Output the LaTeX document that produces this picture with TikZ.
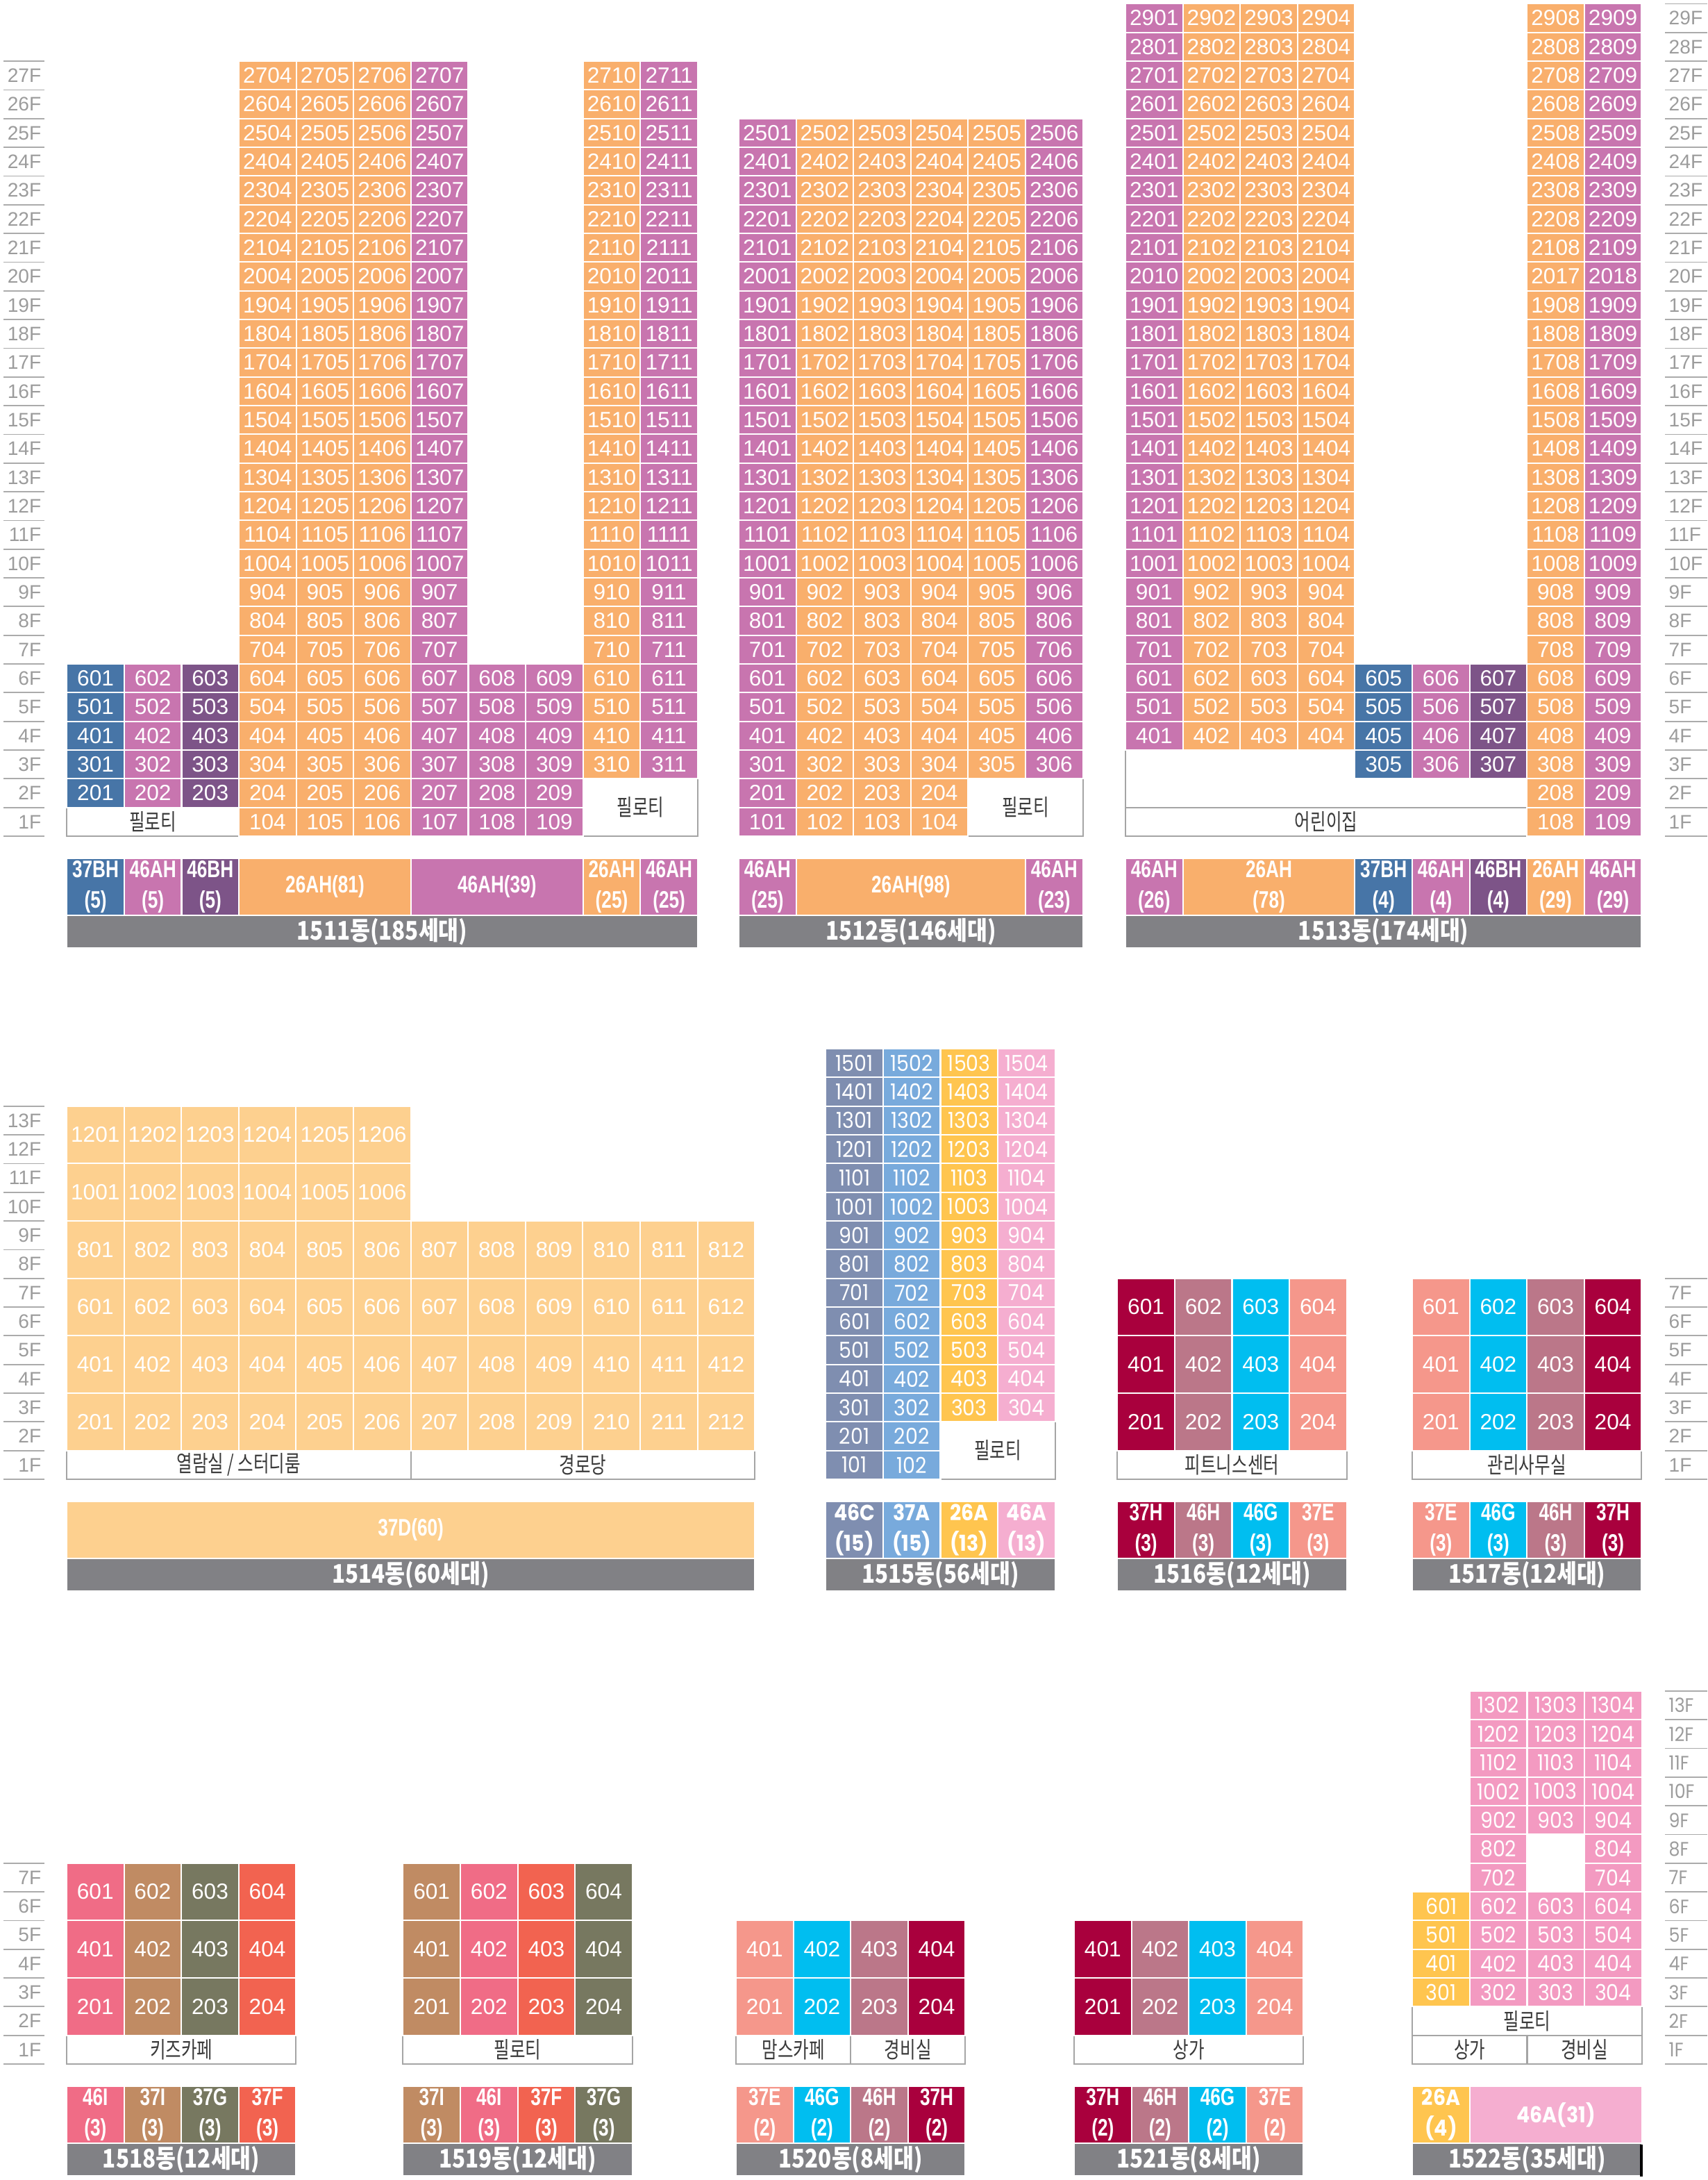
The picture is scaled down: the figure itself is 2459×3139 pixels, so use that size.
\documentclass[tikz,border=0pt]{standalone}
\usepackage{fontspec}
\setmainfont{Liberation Sans}
\newfontfamily\kr{Noto Sans CJK KR}[FakeStretch=0.75]
\newfontfamily\krb{Noto Sans CJK KR}[FakeStretch=0.85]
\newfontfamily\geo{Poppins}[FakeStretch=0.9]
\newfontfamily\lab{Liberation Sans}[FakeStretch=0.76]
\newcounter{nc}
\definecolor{orA}{HTML}{F9AF6C}
\definecolor{pkA}{HTML}{C875AF}
\definecolor{blA}{HTML}{4775A7}
\definecolor{puA}{HTML}{7D5488}
\definecolor{barg}{HTML}{818185}
\definecolor{lor}{HTML}{FDD08F}
\definecolor{slate}{HTML}{7F8EB0}
\definecolor{lblue}{HTML}{78AADC}
\definecolor{yel}{HTML}{FFC54F}
\definecolor{lpink}{HTML}{F5AED0}
\definecolor{crim}{HTML}{A9003D}
\definecolor{mauve}{HTML}{BB7789}
\definecolor{cyan}{HTML}{00BEF0}
\definecolor{salm}{HTML}{F5978B}
\definecolor{pinkred}{HTML}{F06C86}
\definecolor{brown}{HTML}{C08B63}
\definecolor{olive}{HTML}{777860}
\definecolor{redor}{HTML}{F26350}
\definecolor{pkt}{HTML}{F39AC1}
\definecolor{flg}{HTML}{9C9C9C}
\definecolor{lineg}{HTML}{ABABAB}
\definecolor{boxg}{HTML}{A5A5A5}
\definecolor{ktext}{HTML}{3A3A3A}
\def\W{82.6}
\def\H{41.33}
\tikzset{
  cell/.style={draw=white,line width=0.6pt,inner sep=0pt,minimum width=0.826cm,text=white,font=\fontsize{9}{10}\selectfont},
  ufont/.style={},
  typ/.style={draw=white,line width=0.6pt,inner sep=0pt,text=white,align=center,minimum height=0.82cm,font=\lab\bfseries\fontsize{9.8}{12.5}\selectfont},
  tfont/.style={},
  bar/.style={fill=barg,draw=white,line width=0.6pt,inner sep=0pt,text=white,minimum height=0.47cm,font=\krb\bfseries\fontsize{10.5}{12}\selectfont},
  kb/.style={fill=white,draw=boxg,line width=0.6pt,inner sep=0pt,text=ktext,font=\kr\fontsize{9.3}{10}\selectfont},
  flab/.style={text=flg,inner sep=0pt,font=\fontsize{8}{9}\selectfont},
  flabgeo/.style={text=flg,inner sep=0pt,font=\geo\fontsize{8}{9}\selectfont},
  fline/.style={draw=lineg,line width=0.5pt}
}
\newcommand\bcell[6]{%
  \pgfmathsetmacro\ux{#1+(#2+0.5)*\W}%
  \pgfmathsetmacro\uy{\B-(#3-1+#4/2)*\H}%
  \pgfmathsetmacro\uh{#4*\H*0.01}%
  \stepcounter{nc}%
  \node[cell,ufont,fill=#5,minimum height=\uh cm] (u\arabic{nc}) at (\ux,\uy) {#6};}
\newcommand\bcol[5]{\foreach \f in {#3}{\pgfmathtruncatemacro\unum{\f*100+#5}\bcell{#1}{#2}{\f}{1}{#4}{\unum}}}
\newcommand\bblk[4]{\foreach \cc [count=\ci] in {#4}{\foreach \f in {#2}{\pgfmathtruncatemacro\unum{\f*100+\ci}\bcell{#1}{\ci-1}{\f}{#3}{\cc}{\unum}}}}
\newcommand\btype[5]{%
  \pgfmathsetmacro\qx{#1+(#2+#3)/2*\W}%
  \pgfmathsetmacro\qw{(#3-#2)*\W*0.01}%
  \pgfmathsetmacro\qy{\B+73}%
  \stepcounter{nc}%
  \node[typ,tfont,fill=#4,minimum width=\qw cm] (t\arabic{nc}) at (\qx,\qy) {#5};}
\newcommand\bbar[3]{%
  \pgfmathsetmacro\qx{#1+#2/2*\W}%
  \pgfmathsetmacro\qw{#2*\W*0.01}%
  \pgfmathsetmacro\qy{\B+137.5}%
  \stepcounter{nc}%
  \node[bar,minimum width=\qw cm] (g\arabic{nc}) at (\qx,\qy) {#3};}
\newcommand\kbox[6]{%
  \pgfmathsetmacro\qx{#1+(#2+#3)/2*\W}%
  \pgfmathsetmacro\qw{(#3-#2)*\W*0.01}%
  \pgfmathsetmacro\qy{\B-(#4-1+#5/2)*\H}%
  \pgfmathsetmacro\qh{#5*\H*0.01}%
  \stepcounter{nc}%
  \node[kb,minimum width=\qw cm,minimum height=\qh cm] (k\arabic{nc}) at (\qx,\qy) {#6};}
\newcommand\bfloors[6]{%
  \foreach \i in {1,...,#5}{\pgfmathsetmacro\qy{\B-(\i-0.5)*\H}\stepcounter{nc}\node[#6,anchor=#4] (f\arabic{nc}) at (#3,\qy) {\i F};}%
  \foreach \i in {0,...,#5}{\pgfmathsetmacro\qy{\B-\i*\H}\draw[fline] (#1,\qy) -- (#2,\qy);}}
\begin{document}
\begin{tikzpicture}[x=0.01cm,y=-0.01cm]
\fill[white] (0,0) rectangle (2459,3139);
\useasboundingbox (0,0) rectangle (2459,3139);
% ================= SECTION A =================
\def\B{1204}
\bfloors{5}{64}{60}{east}{27}{flab}
\bfloors{2398}{2459}{2403}{west}{29}{flab}
% ---- 1511
\kbox{96.3}{0}{3}{1}{1}{필로티}
\kbox{96.3}{9}{11}{1}{2}{필로티}
\bcol{96.3}{0}{2,...,6}{blA}{1}
\bcol{96.3}{1}{2,...,6}{pkA}{2}
\bcol{96.3}{2}{2,...,6}{puA}{3}
\bcol{96.3}{3}{1,...,27}{orA}{4}
\bcol{96.3}{4}{1,...,27}{orA}{5}
\bcol{96.3}{5}{1,...,27}{orA}{6}
\bcol{96.3}{6}{1,...,27}{pkA}{7}
\bcol{96.3}{7}{1,...,6}{pkA}{8}
\bcol{96.3}{8}{1,...,6}{pkA}{9}
\bcol{96.3}{9}{3,...,27}{orA}{10}
\bcol{96.3}{10}{3,...,27}{pkA}{11}
\btype{96.3}{0}{1}{blA}{37BH\\(5)}
\btype{96.3}{1}{2}{pkA}{46AH\\(5)}
\btype{96.3}{2}{3}{puA}{46BH\\(5)}
\btype{96.3}{3}{6}{orA}{26AH(81)}
\btype{96.3}{6}{9}{pkA}{46AH(39)}
\btype{96.3}{9}{10}{orA}{26AH\\(25)}
\btype{96.3}{10}{11}{pkA}{46AH\\(25)}
\bbar{96.3}{11}{1511동(185세대)}
% ---- 1512
\kbox{1064}{4}{6}{1}{2}{필로티}
\bcol{1064}{0}{1,...,25}{pkA}{1}
\bcol{1064}{1}{1,...,25}{orA}{2}
\bcol{1064}{2}{1,...,25}{orA}{3}
\bcol{1064}{3}{1,...,25}{orA}{4}
\bcol{1064}{4}{3,...,25}{orA}{5}
\bcol{1064}{5}{3,...,25}{pkA}{6}
\btype{1064}{0}{1}{pkA}{46AH\\(25)}
\btype{1064}{1}{5}{orA}{26AH(98)}
\btype{1064}{5}{6}{pkA}{46AH\\(23)}
\bbar{1064}{6}{1512동(146세대)}
% ---- 1513
\kbox{1621}{0}{7}{2}{2}{}
\kbox{1621}{0}{7}{1}{1}{어린이집}
\bcol{1621}{0}{4,...,29}{pkA}{1}
\bcell{1621}{0}{20}{1}{pkA}{2010}
\bcol{1621}{1}{4,...,29}{orA}{2}
\bcol{1621}{2}{4,...,29}{orA}{3}
\bcol{1621}{3}{4,...,29}{orA}{4}
\bcol{1621}{4}{3,...,6}{blA}{5}
\bcol{1621}{5}{3,...,6}{pkA}{6}
\bcol{1621}{6}{3,...,6}{puA}{7}
\bcol{1621}{7}{1,...,29}{orA}{8}
\bcell{1621}{7}{20}{1}{orA}{2017}
\bcol{1621}{8}{1,...,29}{pkA}{9}
\bcell{1621}{8}{20}{1}{pkA}{2018}
\btype{1621}{0}{1}{pkA}{46AH\\(26)}
\btype{1621}{1}{4}{orA}{26AH\\(78)}
\btype{1621}{4}{5}{blA}{37BH\\(4)}
\btype{1621}{5}{6}{pkA}{46AH\\(4)}
\btype{1621}{6}{7}{puA}{46BH\\(4)}
\btype{1621}{7}{8}{orA}{26AH\\(29)}
\btype{1621}{8}{9}{pkA}{46AH\\(29)}
\bbar{1621}{9}{1513동(174세대)}
% ================= SECTION B =================
\def\B{2130}
\bfloors{5}{64}{60}{east}{13}{flab}
\bfloors{2398}{2459}{2403}{west}{7}{flab}
% ---- 1514
\kbox{96}{0}{6}{1}{1}{열람실 / 스터디룸}
\kbox{96}{6}{12}{1}{1}{경로당}
\bblk{96}{2,4,6,8}{2}{lor,lor,lor,lor,lor,lor,lor,lor,lor,lor,lor,lor}
\bblk{96}{10,12}{2}{lor,lor,lor,lor,lor,lor}
\btype{96}{0}{12}{lor}{37D(60)}
\bbar{96}{12}{1514동(60세대)}
% ---- 1515
\tikzset{ufont/.style={font=\geo\fontsize{9}{10}\selectfont},tfont/.style={font=\geo\bfseries\fontsize{9}{12.5}\selectfont}}
\kbox{1189.3}{2}{4}{1}{2}{필로티}
\bcol{1189.3}{0}{1,...,15}{slate}{1}
\bcol{1189.3}{1}{1,...,15}{lblue}{2}
\bcol{1189.3}{2}{3,...,15}{yel}{3}
\bcol{1189.3}{3}{3,...,15}{lpink}{4}
\btype{1189.3}{0}{1}{slate}{46C\\(15)}
\btype{1189.3}{1}{2}{lblue}{37A\\(15)}
\btype{1189.3}{2}{3}{yel}{26A\\(13)}
\btype{1189.3}{3}{4}{lpink}{46A\\(13)}
\bbar{1189.3}{4}{1515동(56세대)}
\tikzset{ufont/.style={},tfont/.style={}}
% ---- 1516
\kbox{1609.3}{0}{4}{1}{1}{피트니스센터}
\bblk{1609.3}{2,4,6}{2}{crim,mauve,cyan,salm}
\btype{1609.3}{0}{1}{crim}{37H\\(3)}
\btype{1609.3}{1}{2}{mauve}{46H\\(3)}
\btype{1609.3}{2}{3}{cyan}{46G\\(3)}
\btype{1609.3}{3}{4}{salm}{37E\\(3)}
\bbar{1609.3}{4}{1516동(12세대)}
% ---- 1517
\kbox{2034}{0}{4}{1}{1}{관리사무실}
\bblk{2034}{2,4,6}{2}{salm,cyan,mauve,crim}
\btype{2034}{0}{1}{salm}{37E\\(3)}
\btype{2034}{1}{2}{cyan}{46G\\(3)}
\btype{2034}{2}{3}{mauve}{46H\\(3)}
\btype{2034}{3}{4}{crim}{37H\\(3)}
\bbar{2034}{4}{1517동(12세대)}
% ================= SECTION C =================
\def\B{2972}
\bfloors{5}{64}{60}{east}{7}{flab}
\bfloors{2398}{2459}{2403}{west}{13}{flabgeo}
% ---- 1518
\kbox{96}{0}{4}{1}{1}{키즈카페}
\bblk{96}{2,4,6}{2}{pinkred,brown,olive,redor}
\btype{96}{0}{1}{pinkred}{46I\\(3)}
\btype{96}{1}{2}{brown}{37I\\(3)}
\btype{96}{2}{3}{olive}{37G\\(3)}
\btype{96}{3}{4}{redor}{37F\\(3)}
\bbar{96}{4}{1518동(12세대)}
% ---- 1519
\kbox{580.4}{0}{4}{1}{1}{필로티}
\bblk{580.4}{2,4,6}{2}{brown,pinkred,redor,olive}
\btype{580.4}{0}{1}{brown}{37I\\(3)}
\btype{580.4}{1}{2}{pinkred}{46I\\(3)}
\btype{580.4}{2}{3}{redor}{37F\\(3)}
\btype{580.4}{3}{4}{olive}{37G\\(3)}
\bbar{580.4}{4}{1519동(12세대)}
% ---- 1520
\kbox{1060}{0}{2}{1}{1}{맘스카페}
\kbox{1060}{2}{4}{1}{1}{경비실}
\bblk{1060}{2,4}{2}{salm,cyan,mauve,crim}
\btype{1060}{0}{1}{salm}{37E\\(2)}
\btype{1060}{1}{2}{cyan}{46G\\(2)}
\btype{1060}{2}{3}{mauve}{46H\\(2)}
\btype{1060}{3}{4}{crim}{37H\\(2)}
\bbar{1060}{4}{1520동(8세대)}
% ---- 1521
\kbox{1547}{0}{4}{1}{1}{상가}
\bblk{1547}{2,4}{2}{crim,mauve,cyan,salm}
\btype{1547}{0}{1}{crim}{37H\\(2)}
\btype{1547}{1}{2}{mauve}{46H\\(2)}
\btype{1547}{2}{3}{cyan}{46G\\(2)}
\btype{1547}{3}{4}{salm}{37E\\(2)}
\bbar{1547}{4}{1521동(8세대)}
% ---- 1522
\tikzset{ufont/.style={font=\geo\fontsize{9}{10}\selectfont},tfont/.style={font=\geo\bfseries\fontsize{9}{12.5}\selectfont}}
\kbox{2034.3}{0}{4}{2}{1}{필로티}
\kbox{2034.3}{0}{2}{1}{1}{상가}
\kbox{2034.3}{2}{4}{1}{1}{경비실}
\bcol{2034.3}{0}{3,...,6}{yel}{1}
\bcol{2034.3}{1}{3,...,13}{pkt}{2}
\bcol{2034.3}{2}{3,4,5,6,9,10,11,12,13}{pkt}{3}
\bcol{2034.3}{3}{3,...,13}{pkt}{4}
\btype{2034.3}{0}{1}{yel}{26A\\(4)}
\btype{2034.3}{1}{4}{lpink}{46A(31)}
\bbar{2034.3}{4}{1522동(35세대)}
\coordinate (blk1) at (2364,3088);
\coordinate (blk2) at (2364,3134);
\draw[line width=1pt,black] (blk1) -- (blk2);
\end{tikzpicture}
\end{document}
